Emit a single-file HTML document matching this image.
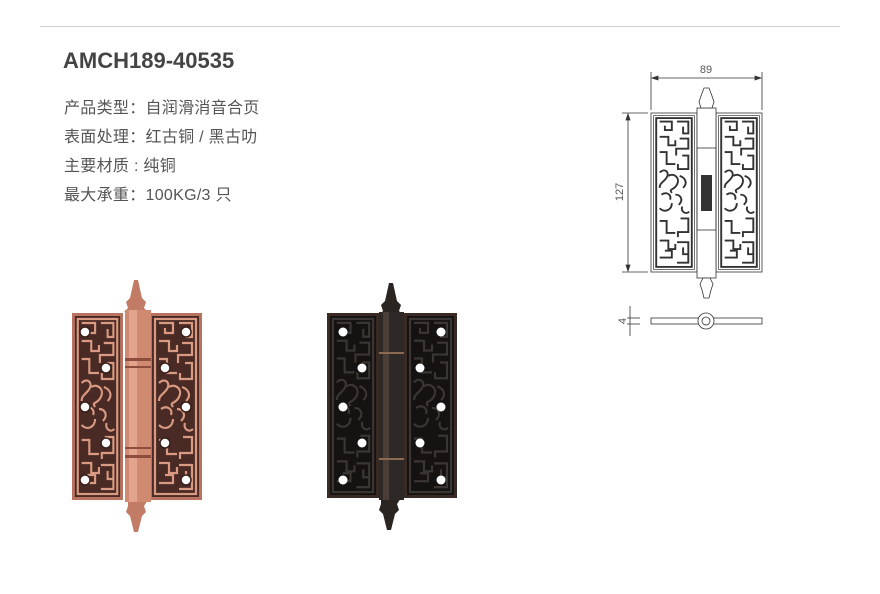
<!DOCTYPE html>
<html><head><meta charset="utf-8"><style>
body{margin:0;background:#fff;width:880px;height:594px;overflow:hidden;position:relative;font-family:"Liberation Sans","Noto Sans CJK SC",sans-serif}
.t{position:absolute;left:64px;color:#555;font-size:16px;letter-spacing:0.3px}
</style></head><body>
<div style="position:absolute;left:40px;top:26px;width:800px;height:1px;background:#d0d0d0"></div>
<div style="position:absolute;left:63px;top:48px;font-size:22px;color:#444;font-weight:bold;letter-spacing:0px">AMCH189-40535</div>
<div class="t" style="top:94px">产品类型：自润滑消音合页</div>
<div class="t" style="top:123px">表面处理：红古铜 / 黑古叻</div>
<div class="t" style="top:152px">主要材质 : 纯铜</div>
<div class="t" style="top:181px">最大承重：100KG/3 只</div>
<svg width="880" height="594" style="position:absolute;left:0;top:0">
<defs>
<symbol id="pat" viewBox="0 0 53 187" preserveAspectRatio="none">
<rect x="3" y="3" width="47" height="181" fill="currentColor"/>
<g fill="none" stroke="var(--l)" stroke-width="2.2">
<rect x="6" y="6" width="41" height="175"/>
<path d="M10 10h14v10h-8v-5M30 10h13v14h-6v-8M10 28h10v10h8v-6M33 30h10v12h-14v8M10 46h8v14h10M36 50h7v16h-12v-6"/>
<path d="M10 70c6-6 12 0 8 6s-8 6-8 12M20 74c6-4 14 2 10 10s-10 4-6 10M33 74c6 2 10 8 4 14M12 96c6-4 12 0 10 6M28 96c6 0 10 6 4 12M10 112c6 6 14 2 14-6M36 110c-2 6 4 10 8 6"/>
<path d="M10 127h8v14h10M34 124h9v16h-12v6M10 150h10v10h8v-6M30 152h13v14h-6v-8M10 170h14v-8h-8M30 176h13v-10"/>
</g>
</symbol>
</defs>
<g style="--l:#d89a82;color:#4a2a24">
<rect x="72" y="313" width="51" height="187" fill="#b77260"/>
<use href="#pat" x="72" y="313" width="51" height="187"/>
<rect x="149" y="313" width="53" height="187" fill="#b77260"/>
<use href="#pat" x="149" y="313" width="53" height="187"/>
</g>
<g>
<path d="M134 280 l4 0 l4 18 l4 4 l-2 6 l4 4 h-24 l4-4 l-2-6 l4-4z" fill="#c27c66"/>
<path d="M128 500 h20 l-4 6 l2 6 l-4 4 l-4 16 h-4 l-4-16 l-4-4 l2-6z" fill="#c27c66"/>
<rect x="125" y="310" width="26" height="192" fill="#d08a72"/>
<rect x="129" y="310" width="8" height="192" fill="#e2a48d"/>
<rect x="125" y="358" width="26" height="3" fill="#8e4c3c"/><rect x="125" y="366" width="26" height="2" fill="#8e4c3c"/>
<rect x="125" y="447" width="26" height="2" fill="#8e4c3c"/><rect x="125" y="455" width="26" height="3" fill="#8e4c3c"/>
</g>
<g fill="#fff" stroke="#3a201a" stroke-width="1.5">
<circle cx="85" cy="332" r="5"/><circle cx="106" cy="368" r="5"/><circle cx="85" cy="407" r="5"/><circle cx="106" cy="443" r="5"/><circle cx="85" cy="480" r="5"/>
<circle cx="186" cy="332" r="5"/><circle cx="165" cy="368" r="5"/><circle cx="186" cy="407" r="5"/><circle cx="165" cy="443" r="5"/><circle cx="186" cy="480" r="5"/>
</g>
<g style="--l:#3a3634;color:#151312">
<rect x="327" y="313" width="52" height="185" fill="#3a2a24"/>
<use href="#pat" x="327" y="313" width="52" height="185"/>
<rect x="404" y="313" width="53" height="185" fill="#3a2a24"/>
<use href="#pat" x="404" y="313" width="53" height="185"/>
</g>
<path d="M389 283 l4 0 l4 18 l4 4 l-2 6 l4 4 h-24 l4-4 l-2-6 l4-4z" fill="#2b2522"/>
<path d="M381 498 h20 l-4 6 l2 6 l-4 4 l-4 16 h-4 l-4-16 l-4-4 l2-6z" fill="#2b2522"/>
<rect x="379" y="312" width="25" height="188" fill="#2e2826"/>
<rect x="383" y="312" width="6" height="188" fill="#4a3e38"/>
<rect x="379" y="352" width="25" height="2" fill="#8a6a50"/><rect x="379" y="458" width="25" height="2" fill="#8a6a50"/>
<g fill="#fff">
<circle cx="343" cy="332" r="4.5"/><circle cx="362" cy="368" r="4.5"/><circle cx="343" cy="407" r="4.5"/><circle cx="362" cy="443" r="4.5"/><circle cx="343" cy="480" r="4.5"/>
<circle cx="441" cy="332" r="4.5"/><circle cx="420" cy="368" r="4.5"/><circle cx="441" cy="407" r="4.5"/><circle cx="420" cy="443" r="4.5"/><circle cx="441" cy="480" r="4.5"/>
</g>
<g stroke="#333" stroke-width="0.8" fill="none">
<line x1="651" y1="72" x2="651" y2="110"/><line x1="762" y1="72" x2="762" y2="110"/>
<line x1="652" y1="78" x2="761" y2="78"/>
<path d="M652 78l6-2v4zM761 78l-6-2v4z" fill="#333"/>
<line x1="622" y1="113" x2="648" y2="113"/><line x1="622" y1="272" x2="648" y2="272"/>
<line x1="628" y1="114" x2="628" y2="271"/>
<path d="M628 114l-2 6h4zM628 271l-2-6h4z" fill="#333"/>
<g style="--l:#333;color:#fff">
<rect x="651" y="113" width="46" height="159"/>
<use href="#pat" x="651" y="113" width="46" height="159"/>
<rect x="716" y="113" width="46" height="159"/>
<use href="#pat" x="716" y="113" width="46" height="159"/>
</g>
<rect x="697" y="108" width="19" height="170" fill="#fff"/>
<rect x="697" y="148" width="19" height="82"/>
<path d="M704 88h5l3 8l2 6l-2 6h-11l-2-6l2-6z" fill="#fff"/>
<path d="M703 278h7l3 6l-2 6l-2 8h-5l-2-8l-2-6z" fill="#fff"/>
<rect x="651" y="318" width="111" height="6"/>
<circle cx="706" cy="321" r="8" fill="#fff"/><circle cx="706" cy="321" r="4"/>
<line x1="630" y1="306" x2="630" y2="336"/><line x1="627" y1="318" x2="640" y2="318"/><line x1="627" y1="324" x2="640" y2="324"/>
</g>
<rect x="701" y="175" width="11" height="36" fill="#333"/>
<text x="706" y="73" font-size="11" fill="#555" text-anchor="middle" font-family="Liberation Sans">89</text>
<text x="0" y="0" font-size="11" fill="#555" text-anchor="middle" font-family="Liberation Sans" transform="translate(623,192) rotate(-90)">127</text>
<text x="0" y="0" font-size="11" fill="#555" text-anchor="middle" font-family="Liberation Sans" transform="translate(626,321) rotate(-90)">4</text>
</svg>
</body></html>
